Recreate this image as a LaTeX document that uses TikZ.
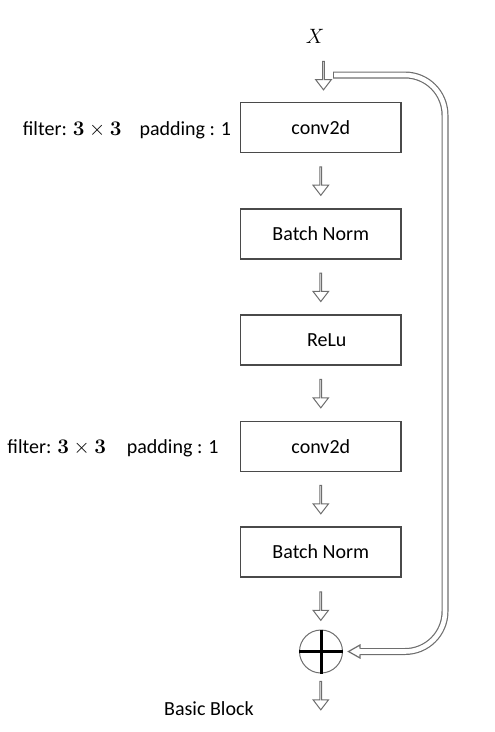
\documentclass[tikz,border=0pt]{standalone}
\usepackage[no-math]{fontspec}
\setmainfont{Carlito}
\usetikzlibrary{shapes.arrows}
\definecolor{boxline}{HTML}{4A4A4A}
\definecolor{arrline}{HTML}{6E6E6E}
\begin{document}
\begin{tikzpicture}[x=1pt,y=-1pt,
  font=\fontsize{20}{24}\selectfont,
  block/.style={draw=boxline, line width=1.2pt, minimum width=160.5pt, minimum height=50pt, inner sep=0pt},
  downarr/.style={single arrow, draw=arrline, line width=1pt, fill=white, shape border rotate=270,
    minimum height=28.5pt, minimum width=15.5pt, single arrow head extend=3.75pt,
    single arrow tip angle=75, inner sep=0pt},
  lbl/.style={inner sep=0pt, anchor=base west},
  skipout/.style={line width=7pt, draw=arrline, rounded corners=40pt},
  skipin/.style={line width=4.6pt, draw=white, rounded corners=40pt},
]
\useasboundingbox (0,0) rectangle (495,732);

\node[inner sep=0pt] (x) at (315,36) {\fontsize{20}{24}\selectfont$X$};

\node[block] (c1) at (320.8,127.5) {conv2d};
\node[block] (bn1) at (320.8,234) {Batch Norm};
\node[block] (relu) at (320.8,340) {\hspace*{12pt}ReLu};
\node[block] (c2) at (320.8,446.3) {conv2d};
\node[block] (bn2) at (320.8,552) {Batch Norm};

\node[circle, draw=arrline, line width=1pt, minimum size=43pt, inner sep=0pt] (plus) at (321,651.5) {};
\draw[line width=3pt] (plus.north) -- (plus.south);
\draw[line width=3pt] (plus.west) -- (plus.east);

\node[downarr] (a0) at (323.5,75) {};
\node[downarr] (a1) at (320.8,180.5) {};
\node[downarr] (a2) at (320.8,286.7) {};
\node[downarr] (a3) at (320.8,393) {};
\node[downarr] (a4) at (320.8,499) {};
\node[downarr] (a5) at (320.8,605.5) {};
\node[downarr] (a6) at (320.8,695) {};

\node[lbl] (f1) at (22.7,135) {filter: $\mathbf{3}\times\mathbf{3}$};
\node[lbl] (p1) at (139.3,135) {padding : 1};
\node[lbl] (f2) at (7.3,453.3) {filter: $\mathbf{3}\times\mathbf{3}$};
\node[lbl] (p2) at (126.7,453.3) {padding : 1};

\node[lbl] (bb) at (164,715) {Basic Block};

\coordinate (s0) at (333,75);
\coordinate (s1) at (445,651.5);
\coordinate (s2) at (360,651.5);
\draw[skipout] (s0) -| (s1) -- (s2);
\draw[skipin, shorten <=1.2pt] (s0) -| (s1) -- (s2);
\filldraw[fill=white, draw=arrline, line width=1.2pt]
  (360,648.6) -- (360,645) -- (348.5,651.5) -- (360,658) -- (360,654.4);
\end{tikzpicture}
\end{document}
